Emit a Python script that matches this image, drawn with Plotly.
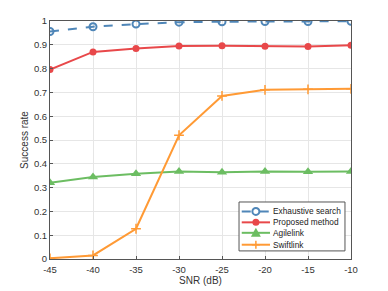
import plotly.graph_objects as go

snr = [-45, -40, -35, -30, -25, -20, -15, -10]
exhaustive = [0.956, 0.976, 0.987, 0.995, 0.997, 0.998, 0.998, 0.999]
proposed = [0.796, 0.870, 0.884, 0.895, 0.896, 0.894, 0.893, 0.898]
agilelink = [0.320, 0.345, 0.358, 0.368, 0.364, 0.368, 0.367, 0.368]
swiftlink = [0.003, 0.015, 0.127, 0.520, 0.685, 0.711, 0.713, 0.715]

names = ["Exhaustive search", "Proposed method", "Agilelink", "Swiftlink"]
colors = ["#4f86b8", "#e8484a", "#6cbd62", "#ff9a35"]

x_ticks = [-45, -40, -35, -30, -25, -20, -15, -10]
x_labels = ["-45", "-40", "-35", "-30", "-25", "-20", "-15", "-10"]
y_ticks = [0, 0.1, 0.2, 0.3, 0.4, 0.5, 0.6, 0.7, 0.8, 0.9, 1]
y_labels = ["0", "0.1", "0.2", "0.3", "0.4", "0.5", "0.6", "0.7", "0.8", "0.9", "1"]

fig = go.Figure()
fig.add_trace(go.Scatter(x=snr, y=exhaustive, name=names[0], mode="lines+markers",
                         line=dict(color=colors[0], width=2, dash="dash"),
                         marker=dict(symbol="circle-open", size=7, color=colors[0], line=dict(width=2))))
fig.add_trace(go.Scatter(x=snr, y=proposed, name=names[1], mode="lines+markers",
                         line=dict(color=colors[1], width=2),
                         marker=dict(symbol="circle", size=7, color=colors[1])))
fig.add_trace(go.Scatter(x=snr, y=agilelink, name=names[2], mode="lines+markers",
                         line=dict(color=colors[2], width=2),
                         marker=dict(symbol="triangle-up", size=9, color=colors[2])))
fig.add_trace(go.Scatter(x=snr, y=swiftlink, name=names[3], mode="lines+markers",
                         line=dict(color=colors[3], width=2),
                         marker=dict(symbol="cross-thin", size=7, color=colors[3],
                                     line=dict(width=1.5, color=colors[3]))))

# ---- custom compact legend (layout decoration) ----
shapes = []
annotations = []
lx0, lx1, ly0, ly1 = 0.628, 0.980, 0.034, 0.2395
shapes.append(dict(type="rect", xref="paper", yref="paper", x0=lx0, x1=lx1, y0=ly0, y1=ly1,
                   fillcolor="white", line=dict(color="#555555", width=1), layer="above"))
rows = [0.200, 0.154, 0.110, 0.060]
sx0, sx1, sxm, tx = 0.637, 0.731, 0.684, 0.735
for i, (nm, c, ry) in enumerate(zip(names, colors, rows)):
    shapes.append(dict(type="line", xref="paper", yref="paper", x0=sx0, x1=sx1, y0=ry, y1=ry,
                       line=dict(color=c, width=2, dash="dash" if i == 0 else "solid"), layer="above"))
    common = dict(xref="paper", yref="paper", xsizemode="pixel", ysizemode="pixel",
                  xanchor=sxm, yanchor=ry, layer="above")
    if i == 0:
        shapes.append(dict(type="circle", x0=-3.5, x1=3.5, y0=-3.5, y1=3.5,
                           fillcolor="white", line=dict(color=c, width=2), **common))
    elif i == 1:
        shapes.append(dict(type="circle", x0=-3.5, x1=3.5, y0=-3.5, y1=3.5,
                           fillcolor=c, line=dict(color=c, width=0), **common))
    elif i == 2:
        shapes.append(dict(type="path", path="M -5 -4 L 5 -4 L 0 5 Z",
                           fillcolor=c, line=dict(color=c, width=0), **common))
    else:
        shapes.append(dict(type="path", path="M -4 0 L 4 0 M 0 -4 L 0 4",
                           line=dict(color=c, width=1.5), **common))
    annotations.append(dict(xref="paper", yref="paper", x=tx, y=ry, text=nm, showarrow=False,
                            xanchor="left", yanchor="middle",
                            font=dict(family="Liberation Sans, Arial", size=8.3, color="#222222")))

axis_common = dict(showgrid=True, gridcolor="#e6e6e6", gridwidth=1, showline=True,
                   linecolor="#555555", linewidth=1, mirror=True, ticks="inside",
                   ticklen=3, tickcolor="#555555", zeroline=False, automargin=False,
                   tickfont=dict(family="Liberation Sans, Arial", size=9.5, color="#333333"))

fig.update_layout(
    width=380, height=283,
    margin=dict(l=42, r=37, t=13, b=32),
    paper_bgcolor="white", plot_bgcolor="white",
    font=dict(family="Liberation Sans, Arial", size=10, color="#333333"),
    xaxis=dict(range=[-45, -10], tickvals=x_ticks, ticktext=x_labels, ticklabelstandoff=2,
               title=dict(text="SNR (dB)", standoff=2, font=dict(size=10)), **axis_common),
    yaxis=dict(range=[0, 1], tickvals=y_ticks, ticktext=y_labels,
               title=dict(text="Success rate", standoff=3, font=dict(size=10)), **axis_common),
    showlegend=False,
    shapes=shapes,
    annotations=annotations,
)

fig.write_html("out.html")
